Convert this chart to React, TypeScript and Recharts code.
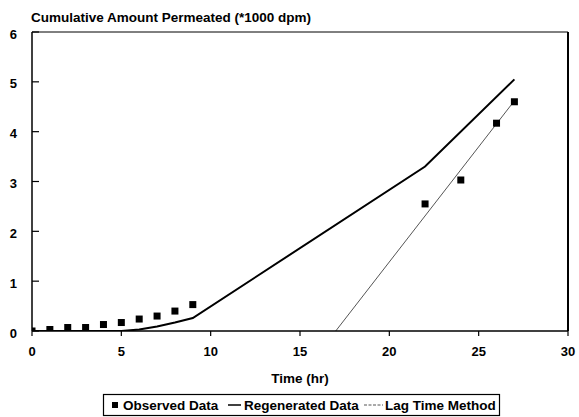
import React from 'react';
import { ComposedChart, Line, Scatter, XAxis, YAxis, ReferenceLine } from 'recharts';

const observedTime = [0, 1, 2, 3, 4, 5, 6, 7, 8, 9, 22, 24, 26, 27];
const observedAmount = [0, 0.03, 0.07, 0.07, 0.13, 0.17, 0.24, 0.3, 0.4, 0.53, 2.55, 3.03, 4.17, 4.6];
const regenTime = [0, 5, 6, 7, 8, 9, 22, 27];
const regenAmount = [0, 0, 0.03, 0.09, 0.17, 0.26, 3.3, 5.05];
const lagTime = [17, 27];
const lagAmount = [0, 4.62];
const xTicks = [0, 5, 10, 15, 20, 25, 30];
const yTicks = [0, 1, 2, 3, 4, 5, 6];

const title = 'Cumulative Amount Permeated (*1000 dpm)';
const xLabel = 'Time (hr)';
const legendNames = ['Observed Data', 'Regenerated Data', 'Lag Time Method'];

const observed = observedTime.map((x, i) => ({ x, y: observedAmount[i] }));
const regen = regenTime.map((x, i) => ({ x, y: regenAmount[i] }));
const lag = lagTime.map((x, i) => ({ x, y: lagAmount[i] }));

const FONT = 'Arial, "Liberation Sans", Helvetica, sans-serif';

const Square = (props: any) => {
  const { cx, cy } = props;
  if (cx == null || cy == null) return null;
  return <rect x={cx - 3.5} y={cy - 3.5} width={7} height={7} fill="#000" />;
};

export default function App() {
  return (
    <div style={{ position: 'absolute', left: 0, top: 0, width: 579, height: 417, background: '#fff' }}>
      <ComposedChart width={579} height={417} margin={{ top: 32, right: 11, left: 0, bottom: 30 }}>
        <XAxis
          dataKey="x"
          type="number"
          domain={[0, 30]}
          ticks={xTicks}
          allowDataOverflow
          height={56}
          tickSize={5}
          tickMargin={11}
          axisLine={{ stroke: '#000', strokeWidth: 1.5 }}
          tickLine={{ stroke: '#000', strokeWidth: 1.2 }}
          tick={{ fill: '#000', fontSize: 13, fontWeight: 700, fontFamily: FONT }}
        />
        <YAxis
          dataKey="y"
          type="number"
          domain={[0, 6]}
          ticks={yTicks}
          allowDataOverflow
          width={32}
          tickSize={-7}
          tickMargin={22}
          axisLine={{ stroke: '#000', strokeWidth: 1.5 }}
          tickLine={{ stroke: '#000', strokeWidth: 1.2 }}
          tick={{ fill: '#000', fontSize: 13, fontWeight: 700, fontFamily: FONT, dy: 2 }}
        />
        <ReferenceLine y={6} stroke="#000" strokeWidth={1} />
        <ReferenceLine x={30} stroke="#000" strokeWidth={2} />
        <Line
          data={regen}
          dataKey="y"
          type="linear"
          stroke="#000"
          strokeWidth={2}
          dot={false}
          activeDot={false}
          isAnimationActive={false}
        />
        <Line
          data={lag}
          dataKey="y"
          type="linear"
          stroke="#555"
          strokeWidth={1}
          dot={false}
          activeDot={false}
          isAnimationActive={false}
        />
        <Scatter data={observed} dataKey="y" shape={Square} isAnimationActive={false} />
      </ComposedChart>
      <svg
        width={579}
        height={417}
        style={{ position: 'absolute', left: 0, top: 0, pointerEvents: 'none' }}
      >
        <text x={31} y={22} fontFamily={FONT} fontWeight={700} fontSize={13.5} fill="#000">
          {title}
        </text>
        <text x={300} y={383} textAnchor="middle" fontFamily={FONT} fontWeight={700} fontSize={13.5} fill="#000">
          {xLabel}
        </text>
        <rect x={103.5} y={394.5} width={396} height={21} fill="none" stroke="#000" strokeWidth={1.2} />
        <rect x={112} y={402} width={6} height={6} fill="#000" />
        <text x={123} y={410} fontFamily={FONT} fontWeight={700} fontSize={13.5} fill="#000">
          {legendNames[0]}
        </text>
        <line x1={228} x2={241} y1={405} y2={405} stroke="#000" strokeWidth={1.5} />
        <text x={244} y={410} fontFamily={FONT} fontWeight={700} fontSize={13.5} fill="#000">
          {legendNames[1]}
        </text>
        <line x1={364} x2={383} y1={405} y2={405} stroke="#555" strokeWidth={1} strokeDasharray="3 1.5" />
        <text x={385} y={410} fontFamily={FONT} fontWeight={700} fontSize={13.5} fill="#000">
          {legendNames[2]}
        </text>
      </svg>
    </div>
  );
}
